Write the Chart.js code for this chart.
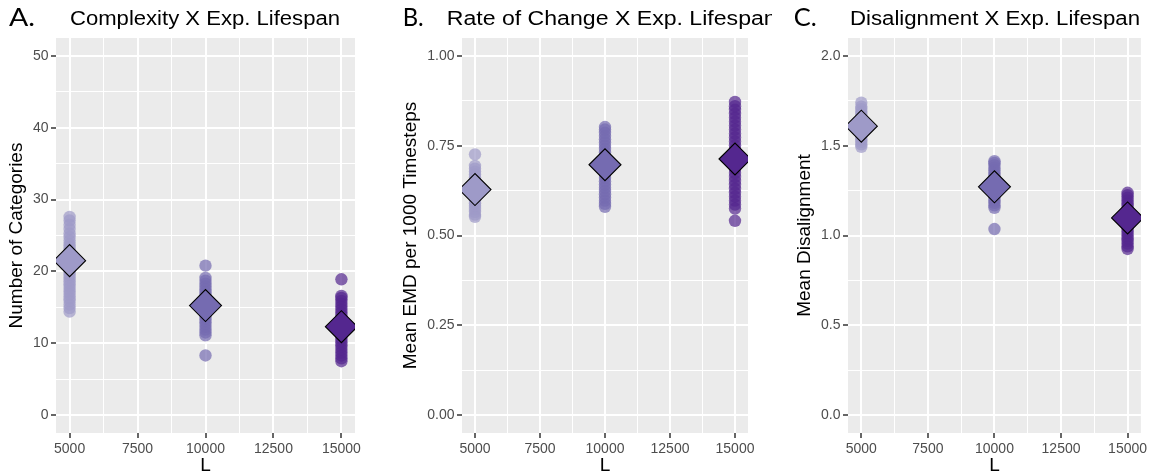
<!DOCTYPE html>
<html><head><meta charset="utf-8">
<script src="https://cdn.jsdelivr.net/npm/chart.js@4.4.0/dist/chart.umd.min.js"></script>
<style>
html,body{margin:0;padding:0;background:#fff;}
#wrap{position:relative;width:1158px;height:475px;overflow:hidden;background:#fff;}
.panel{position:absolute;top:0;width:386px;height:475px;}
canvas{display:block;}
</style></head><body>
<div id="wrap">
<div class="panel" style="left:0px"><canvas id="cA" width="386" height="475"></canvas></div>
<div class="panel" style="left:386px"><canvas id="cB" width="386" height="475"></canvas></div>
<div class="panel" style="left:772px"><canvas id="cC" width="386" height="475"></canvas></div>
</div>
<script>
// ---------- data ----------
const lifespans = [5000, 10000, 15000];
const xTicks = [5000, 7500, 10000, 12500, 15000];
const xMinor = [6250, 8750, 11250, 13750];
const groupColors = ['#9E9AC8', '#756BB1', '#54278F'];
const groupColorsAlpha = ['rgba(158,154,200,0.7)', 'rgba(117,107,177,0.7)', 'rgba(84,39,143,0.7)'];

const complexity5000 = [14.4,14.9,15.4,15.9,16.3,16.8,17.2,17.6,18.0,18.4,18.8,19.2,19.6,20.0,20.3,20.7,21.0,21.4,21.8,22.2,22.6,23.0,23.4,23.8,24.3,24.8,25.3,25.9,26.5,27.1,27.6];
const complexity10000 = [8.3,11.1,11.5,11.9,12.3,12.7,13.1,13.5,13.9,14.3,14.7,15.1,15.5,15.9,16.3,16.7,17.1,17.5,17.9,18.3,18.7,19.1,20.8];
const complexity15000 = [7.5,7.9,8.3,8.7,9.1,9.5,9.9,10.3,10.7,11.1,11.5,11.9,12.3,12.7,13.1,13.5,13.9,14.3,14.7,15.1,15.5,15.9,16.3,16.6,18.9];
const complexityMeans = [21.5, 15.25, 12.3];
const yTicksA = [0, 10, 20, 30, 40, 50];
const yMinorA = [5, 15, 25, 35, 45];

const rate5000 = [0.552,0.558,0.566,0.574,0.582,0.590,0.598,0.606,0.614,0.622,0.630,0.638,0.646,0.654,0.662,0.670,0.678,0.686,0.694,0.726];
const rate10000 = [0.580,0.588,0.597,0.606,0.615,0.624,0.633,0.642,0.651,0.660,0.669,0.678,0.687,0.696,0.705,0.714,0.723,0.732,0.741,0.750,0.759,0.768,0.777,0.786,0.795,0.802];
const rate15000 = [0.541,0.575,0.586,0.597,0.608,0.619,0.630,0.641,0.652,0.663,0.674,0.685,0.696,0.707,0.718,0.729,0.740,0.751,0.762,0.773,0.784,0.795,0.806,0.817,0.828,0.839,0.850,0.860,0.872];
const rateMeans = [0.628, 0.697, 0.713];
const yTicksB = [0, 0.25, 0.5, 0.75, 1.0];
const yMinorB = [0.125, 0.375, 0.625, 0.875];

const disalign5000 = [1.494,1.508,1.522,1.536,1.550,1.564,1.578,1.592,1.606,1.620,1.634,1.648,1.662,1.676,1.690,1.704,1.718,1.740];
const disalign10000 = [1.036,1.154,1.168,1.182,1.196,1.210,1.224,1.238,1.252,1.266,1.280,1.294,1.308,1.322,1.336,1.350,1.364,1.378,1.392,1.404,1.414];
const disalign15000 = [0.925,0.940,0.955,0.970,0.985,1.000,1.015,1.030,1.045,1.060,1.075,1.090,1.105,1.120,1.135,1.150,1.165,1.180,1.195,1.210,1.225,1.238];
const disalignMeans = [1.609, 1.271, 1.098];
const yTicksC = [0, 0.5, 1.0, 1.5, 2.0];
const yMinorC = [0.25, 0.75, 1.25, 1.75];

// ---------- chart helpers ----------
Chart.defaults.font.family = '"Liberation Sans", Arial, Helvetica, sans-serif';

const bgPlugin = {
  id: 'panelBg',
  beforeDraw(chart) {
    const {ctx, chartArea: a} = chart;
    ctx.save();
    ctx.fillStyle = '#EBEBEB';
    ctx.fillRect(a.left, a.top, a.right - a.left, a.bottom - a.top);
    ctx.restore();
  }
};
function fitText(ctx, text, x, y, targetW) {
  const w = ctx.measureText(text).width;
  ctx.save();
  ctx.translate(x, y);
  ctx.scale(targetW / w, 1);
  ctx.fillText(text, 0, 0);
  ctx.restore();
}
const titlePlugin = {
  id: 'panelTitle',
  afterDraw(chart, args, o) {
    const ctx = chart.ctx;
    ctx.save();
    ctx.fillStyle = '#000';
    ctx.textBaseline = 'alphabetic';
    ctx.textAlign = 'left';
    ctx.font = '25px Lato, "Open Sans", sans-serif';
    fitText(ctx, o.letter, o.letterX, 26, o.letterW);
    ctx.font = '19.5px "Liberation Sans", Arial, sans-serif';
    fitText(ctx, o.title, o.titleX, 25, o.titleW);
    ctx.restore();
  }
};

function toPoints(x, arr) { return arr.map(v => ({x: x, y: v})); }

function makePanel(id, p) {
  const majorsX = xTicks, majorsY = p.yTicks;
  const isMaj = (list, v) => list.some(m => Math.abs(m - v) < 1e-9);
  const datasets = [{
    data: lifespans.map((x, i) => ({x: x, y: p.means[i]})),
    pointStyle: 'rectRot', pointRadius: 16,
    backgroundColor: groupColors, borderColor: '#000000', borderWidth: 1.1,
    clip: 0
  }];
  p.groups.forEach((g, i) => {
    datasets.push({
      data: toPoints(lifespans[i], g),
      pointStyle: 'circle', pointRadius: 6.2,
      backgroundColor: groupColorsAlpha[i], borderWidth: 0,
      clip: 0
    });
  });
  new Chart(document.getElementById(id), {
    type: 'scatter',
    data: {datasets},
    options: {
      responsive: false, animation: false, devicePixelRatio: 1, events: [],
      layout: {padding: {left: 0, right: p.padRight, top: 38, bottom: 0}},
      plugins: {
        legend: {display: false}, tooltip: {enabled: false},
        panelTitle: {letter: p.letter, letterX: p.letterX, letterW: p.letterW, title: p.title, titleX: p.titleX, titleW: p.titleW}
      },
      scales: {
        x: {
          type: 'linear', min: 4500, max: 15500,
          afterBuildTicks: s => { s.ticks = [...xTicks, ...xMinor].sort((a, b) => a - b).map(v => ({value: v})); },
          afterFit: s => { s.height = 42; },
          border: {display: false},
          grid: {
            color: '#FFFFFF',
            lineWidth: c => isMaj(majorsX, c.tick.value) ? 2 : 1,
            tickColor: c => isMaj(majorsX, c.tick.value) ? '#333333' : 'rgba(0,0,0,0)',
            tickWidth: 1.5, tickLength: 5, drawTicks: true
          },
          ticks: {
            autoSkip: false, maxRotation: 0, padding: 3, color: '#4D4D4D',
            font: {size: 14},
            callback: v => isMaj(majorsX, v) ? String(v) : ''
          },
          title: {display: true, text: 'L', color: '#000', font: {size: 19, lineHeight: 1}, padding: {top: 0, bottom: 0}}
        },
        y: {
          type: 'linear', min: p.yMin, max: p.yMax,
          afterBuildTicks: s => { s.ticks = [...p.yTicks, ...p.yMinor].sort((a, b) => a - b).map(v => ({value: v})); },
          afterFit: s => { s.width = p.yWidth; },
          border: {display: false},
          grid: {
            color: '#FFFFFF',
            lineWidth: c => isMaj(majorsY, c.tick.value) ? 2 : 1,
            tickColor: c => isMaj(majorsY, c.tick.value) ? '#333333' : 'rgba(0,0,0,0)',
            tickWidth: 1.5, tickLength: 5, drawTicks: true
          },
          ticks: {
            autoSkip: false, padding: 2.5, color: '#4D4D4D',
            font: {size: 14},
            callback: v => isMaj(majorsY, v) ? v.toFixed(p.dec) : ''
          },
          title: {display: true, text: p.yTitle, color: '#000', font: {size: 19, lineHeight: 1}, padding: {top: p.yTitlePad, bottom: 0}}
        }
      }
    },
    plugins: [bgPlugin, titlePlugin]
  });
}

makePanel('cA', {
  groups: [complexity5000, complexity10000, complexity15000], means: complexityMeans,
  yTicks: yTicksA, yMinor: yMinorA, yMin: -2.5, yMax: 52.5, dec: 0,
  yTitle: 'Number of Categories', yWidth: 56, yTitlePad: 7, padRight: 31,
  letter: 'A.', letterX: 9, letterW: 26, title: 'Complexity X Exp. Lifespan', titleX: 70, titleW: 270
});
makePanel('cB', {
  groups: [rate5000, rate10000, rate15000], means: rateMeans,
  yTicks: yTicksB, yMinor: yMinorB, yMin: -0.05, yMax: 1.05, dec: 2,
  yTitle: 'Mean EMD per 1000 Timesteps', yWidth: 76, yTitlePad: 15, padRight: 24,
  letter: 'B.', letterX: 16.7, letterW: 21, title: 'Rate of Change X Exp. Lifespan', titleX: 60.7, titleW: 330
});
makePanel('cC', {
  groups: [disalign5000, disalign10000, disalign15000], means: disalignMeans,
  yTicks: yTicksC, yMinor: yMinorC, yMin: -0.1, yMax: 2.1, dec: 1,
  yTitle: 'Mean Disalignment', yWidth: 76, yTitlePad: 23, padRight: 15,
  letter: 'C.', letterX: 21.7, letterW: 23, title: 'Disalignment X Exp. Lifespan', titleX: 78, titleW: 290
});
</script>
</body></html>
